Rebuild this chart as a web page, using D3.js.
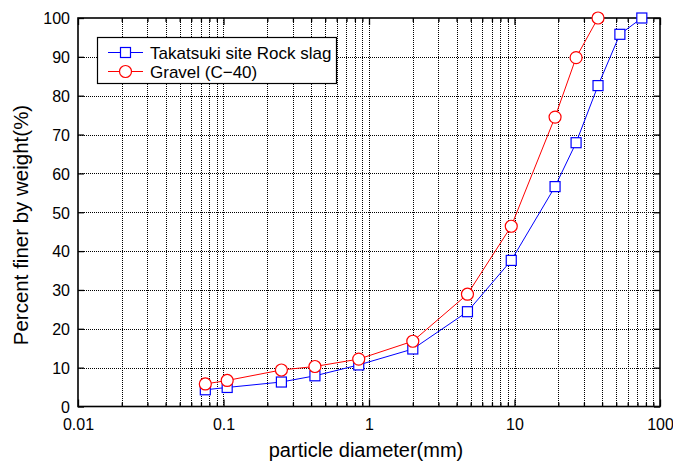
<!DOCTYPE html>
<html>
<head>
<meta charset="utf-8">
<script src="https://cdn.jsdelivr.net/npm/d3@7"></script>
<style>
  html, body { margin: 0; padding: 0; background: #fff; }
  svg text { font-family: "Liberation Sans", Arial, sans-serif; fill: #000; }
</style>
</head>
<body>
<svg id="chart" width="673" height="461"></svg>
<script>
// Sieve sizes (mm) and percent passing for each material
const slagSizes = [0.075, 0.106, 0.25, 0.425, 0.85, 2, 4.75, 9.5, 19, 26.5, 37.5, 53, 75];
const slagPassing = [4.3, 4.9, 6.3, 7.9, 10.7, 14.8, 24.4, 37.6, 56.6, 67.9, 82.6, 95.8, 100];
const gravelSizes = [0.075, 0.106, 0.25, 0.425, 0.85, 2, 4.75, 9.5, 19, 26.5, 37.5];
const gravelPassing = [5.8, 6.7, 9.4, 10.3, 12.2, 16.8, 28.9, 46.4, 74.5, 89.8, 100];
const xTicks = [0.01, 0.1, 1, 10, 100];
const yTicks = [0, 10, 20, 30, 40, 50, 60, 70, 80, 90, 100];
const seriesNames = ["Takatsuki site Rock slag", "Gravel (C\u221240)"];

const svg = d3.select("#chart");
const m = { left: 78, right: 660, top: 18, bottom: 406.5 };

const x = d3.scaleLog().domain([0.01, 100]).range([m.left, m.right]);
const y = d3.scaleLinear().domain([0, 100]).range([m.bottom, m.top]);

// minor positions 1..9 in each decade
const minor = [];
for (let e = -2; e < 2; e++) {
  for (let k = 1; k < 10; k++) minor.push(k * Math.pow(10, e));
}
minor.push(100);

const grid = svg.append("g");
// vertical dotted grid
grid.selectAll("line.v").data(minor.filter(v => v > 0.01 && v < 100)).join("line")
  .attr("x1", d => Math.round(x(d)) + 0.5).attr("x2", d => Math.round(x(d)) + 0.5)
  .attr("y1", m.top).attr("y2", m.bottom)
  .attr("stroke", "#000").attr("stroke-width", 1).attr("stroke-dasharray", "1,1");
// horizontal dotted grid
grid.selectAll("line.h").data(yTicks.filter(v => v > 0 && v < 100)).join("line")
  .attr("x1", m.left).attr("x2", m.right)
  .attr("y1", d => Math.round(y(d)) + 0.5).attr("y2", d => Math.round(y(d)) + 0.5)
  .attr("stroke", "#000").attr("stroke-width", 1).attr("stroke-dasharray", "1,1");

// axes
const isMajor = d => Math.abs(Math.log10(d) - Math.round(Math.log10(d))) < 1e-9;

const xBottom = d3.axisBottom(x).tickValues(minor)
  .tickSizeInner(0).tickSizeOuter(0).tickFormat(d => xTicks.includes(d) ? d3.format("~g")(d) : "");
const gxb = svg.append("g").attr("transform", `translate(0,${m.bottom})`).call(xBottom);
gxb.select(".domain").remove();
gxb.selectAll(".tick text").attr("dy", 0).attr("y", 23.5).style("font-size", "16px");
gxb.selectAll(".tick line").attr("y2", d => isMajor(d) ? -7 : -4).attr("stroke-width", 1.3);

const xTop = d3.axisTop(x).tickValues(minor).tickSizeInner(0).tickSizeOuter(0).tickFormat("");
const gxt = svg.append("g").attr("transform", `translate(0,${m.top})`).call(xTop);
gxt.select(".domain").remove();
gxt.selectAll(".tick line").attr("y2", d => isMajor(d) ? 7 : 4).attr("stroke-width", 1.3);

const yLeft = d3.axisLeft(y).tickValues(yTicks).tickSizeInner(0).tickSizeOuter(0).tickFormat(d3.format("d"));
const gyl = svg.append("g").attr("transform", `translate(${m.left},0)`).call(yLeft);
gyl.select(".domain").remove();
gyl.selectAll(".tick text").attr("x", -8).attr("dy", "0.36em").style("font-size", "16px");
gyl.selectAll(".tick line").attr("x2", 6).attr("stroke-width", 1.3);

const yRight = d3.axisRight(y).tickValues(yTicks).tickSizeInner(0).tickSizeOuter(0).tickFormat("");
const gyr = svg.append("g").attr("transform", `translate(${m.right},0)`).call(yRight);
gyr.select(".domain").remove();
gyr.selectAll(".tick line").attr("x2", -6).attr("stroke-width", 1.3);

// frame
svg.append("rect").attr("x", m.left).attr("y", m.top)
  .attr("width", m.right - m.left).attr("height", m.bottom - m.top)
  .attr("fill", "none").attr("stroke", "#000").attr("stroke-width", 1.6);

// axis titles
svg.append("text").attr("x", 366).attr("y", 457)
  .attr("text-anchor", "middle").style("font-size", "20px").text("particle diameter(mm)");
svg.append("text").attr("transform", `translate(28,225) rotate(-90)`)
  .attr("text-anchor", "middle").style("font-size", "20.5px").text("Percent finer by weight(%)");

// series
const slag = slagSizes.map((d, i) => [d, slagPassing[i]]);
const gravel = gravelSizes.map((d, i) => [d, gravelPassing[i]]);
const line = d3.line().x(d => x(d[0])).y(d => y(d[1]));

const blue = "#0000ff", red = "#ff0000";
svg.append("path").datum(slag).attr("d", line).attr("fill", "none").attr("stroke", blue).attr("stroke-width", 1);
svg.append("path").datum(gravel).attr("d", line).attr("fill", "none").attr("stroke", red).attr("stroke-width", 1);

const sq = 10;
svg.append("g").selectAll("rect").data(slag).join("rect")
  .attr("x", d => x(d[0]) - sq / 2).attr("y", d => y(d[1]) - sq / 2)
  .attr("width", sq).attr("height", sq)
  .attr("fill", "#fff").attr("stroke", blue).attr("stroke-width", 1.2);
svg.append("g").selectAll("circle").data(gravel).join("circle")
  .attr("cx", d => x(d[0])).attr("cy", d => y(d[1])).attr("r", 6)
  .attr("fill", "#fff").attr("stroke", red).attr("stroke-width", 1.2);

// legend
const lg = svg.append("g");
lg.append("rect").attr("x", 97.5).attr("y", 37.5).attr("width", 239).attr("height", 46)
  .attr("fill", "#fff").attr("stroke", "#000").attr("stroke-width", 1.2);
const rows = [{ name: seriesNames[0], color: blue, shape: "square", yy: 52.5 },
              { name: seriesNames[1], color: red, shape: "circle", yy: 71.5 }];
rows.forEach(r => {
  lg.append("line").attr("x1", 108).attr("x2", 143).attr("y1", r.yy).attr("y2", r.yy)
    .attr("stroke", r.color).attr("stroke-width", 1);
  if (r.shape === "square") {
    lg.append("rect").attr("x", 125.5 - sq / 2).attr("y", r.yy - sq / 2).attr("width", sq).attr("height", sq)
      .attr("fill", "#fff").attr("stroke", r.color).attr("stroke-width", 1.2);
  } else {
    lg.append("circle").attr("cx", 125.5).attr("cy", r.yy).attr("r", 6)
      .attr("fill", "#fff").attr("stroke", r.color).attr("stroke-width", 1.2);
  }
  lg.append("text").attr("x", 150).attr("y", r.yy).attr("dy", "0.36em")
    .style("font-size", "17px").text(r.name);
});
</script>
</body>
</html>
